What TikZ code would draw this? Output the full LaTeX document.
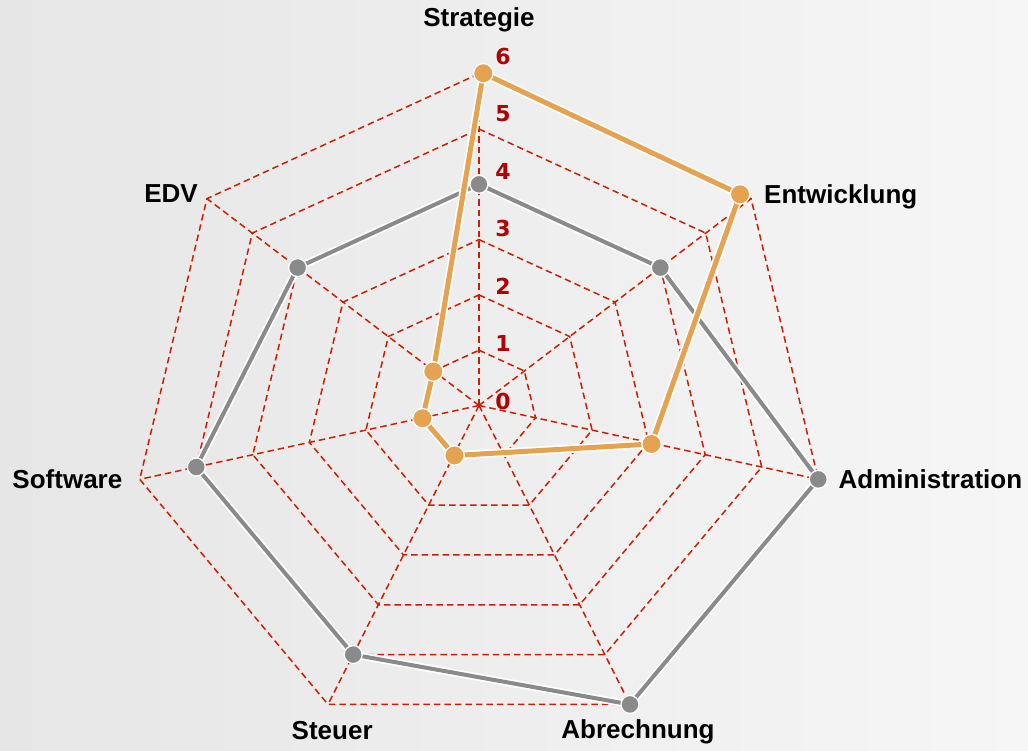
\documentclass[tikz,border=0pt]{standalone}
\usepackage{fontspec}
\setmainfont{Liberation Sans}
\newfontfamily\numfont{DejaVu Sans}
\definecolor{gridred}{RGB}{204,30,0}
\definecolor{numred}{RGB}{176,0,0}
\definecolor{sergrey}{RGB}{138,138,138}
\definecolor{serorange}{RGB}{229,163,82}
\definecolor{bgleft}{RGB}{230,230,230}
\definecolor{bgright}{RGB}{246,246,246}
\begin{document}
\begin{tikzpicture}[x=1pt,y=-1pt,
  gridline/.style={draw=gridred, line width=1.5pt, dash pattern=on 6.5pt off 4pt},
  greyhalo/.style={draw=white, line width=7.5pt, line join=round},
  greyline/.style={draw=sergrey, line width=4pt, line join=round},
  orangehalo/.style={draw=white, line width=8.5pt, line join=round},
  orangeline/.style={draw=serorange, line width=5pt, line join=round},
  greydot/.style={circle, fill=sergrey, draw=white, line width=1.3pt, minimum size=18pt, inner sep=0pt},
  orangedot/.style={circle, fill=serorange, draw=white, line width=1.3pt, minimum size=19.5pt, inner sep=0pt},
  numlbl/.style={text=numred, inner sep=0pt, font=\numfont\bfseries\fontsize{22}{22}\selectfont},
  axlbl/.style={text=black, inner sep=0pt, font=\bfseries\fontsize{26}{26}\selectfont}]
\shade[left color=bgleft, right color=bgright] (0,0) rectangle (1028,751);
\useasboundingbox (0,0) rectangle (1028,751);

% grid coordinates
\begin{scope}[shift={(479,405.5)}, x=58pt, y=55.3pt]
  \coordinate (c) at (0,0);
  \foreach \i/\a in {1/90, 2/38.5714, 3/-12.8571, 4/-64.2857, 5/-115.7143, 6/-167.1429, 7/141.4286} {
    \foreach \l in {1,...,6} { \coordinate (g\l-\i) at (\a:\l); }
  }
\end{scope}

% grid polygons
\foreach \l in {1,...,6} {
  \draw[gridline] (g\l-1) -- (g\l-2) -- (g\l-3) -- (g\l-4) -- (g\l-5) -- (g\l-6) -- (g\l-7) -- cycle;
}
% spokes
\foreach \i in {1,...,7} { \draw[gridline] (c) -- (g6-\i); }

% grey series
\draw[greyhalo] (g4-1) -- (g4-2) -- (g6-3) -- (g6-4) -- (g5-5) -- (g5-6) -- (g4-7) -- cycle;
\draw[greyline] (g4-1) -- (g4-2) -- (g6-3) -- (g6-4) -- (g5-5) -- (g5-6) -- (g4-7) -- cycle;
\node[greydot] (s1) at (g4-1) {};
\node[greydot] (s2) at (g4-2) {};
\node[greydot] (s3) at (g6-3) {};
\node[greydot] (s4) at (g6-4) {};
\node[greydot] (s5) at (g5-5) {};
\node[greydot] (s6) at (g5-6) {};
\node[greydot] (s7) at (g4-7) {};

% orange series
\coordinate (o1) at (483.3,73.3);
\coordinate (o2) at (740,194.3);
\coordinate (o3) at (651.5,444);
\coordinate (o5) at (454.5,455.5);
\coordinate (o6) at (422.5,418.3);
\coordinate (o7) at (433.3,371.5);
\draw[orangehalo] (o1) -- (o2) -- (o3) -- (o5) -- (o6) -- (o7) -- cycle;
\draw[orangeline] (o1) -- (o2) -- (o3) -- (o5) -- (o6) -- (o7) -- cycle;
\node[orangedot] (p1) at (o1) {};
\node[orangedot] (p2) at (o2) {};
\node[orangedot] (p3) at (o3) {};
\node[orangedot] (p5) at (o5) {};
\node[orangedot] (p6) at (o6) {};
\node[orangedot] (p7) at (o7) {};

% scale numbers
\node[numlbl] (n0) at (503,401) {0};
\node[numlbl] (n1) at (503,343.6) {1};
\node[numlbl] (n2) at (503,286.2) {2};
\node[numlbl] (n3) at (503,228.8) {3};
\node[numlbl] (n4) at (503,171.4) {4};
\node[numlbl] (n5) at (503,114) {5};
\node[numlbl] (n6) at (503,56.6) {6};

% axis labels
\node[axlbl, anchor=base] (lStrategie) at (479,27) {Strategie};
\node[axlbl, anchor=base west] (lEntwicklung) at (764,203.3) {Entwicklung};
\node[axlbl, anchor=base west] (lAdministration) at (838.5,488.3) {Administration};
\node[axlbl, anchor=base] (lAbrechnung) at (638,738.3) {Abrechnung};
\node[axlbl, anchor=base] (lSteuer) at (332.2,739) {Steuer};
\node[axlbl, anchor=base east] (lSoftware) at (122.5,488.3) {Software};
\node[axlbl, anchor=base east] (lEDV) at (198,202.7) {EDV};
\end{tikzpicture}
\end{document}
